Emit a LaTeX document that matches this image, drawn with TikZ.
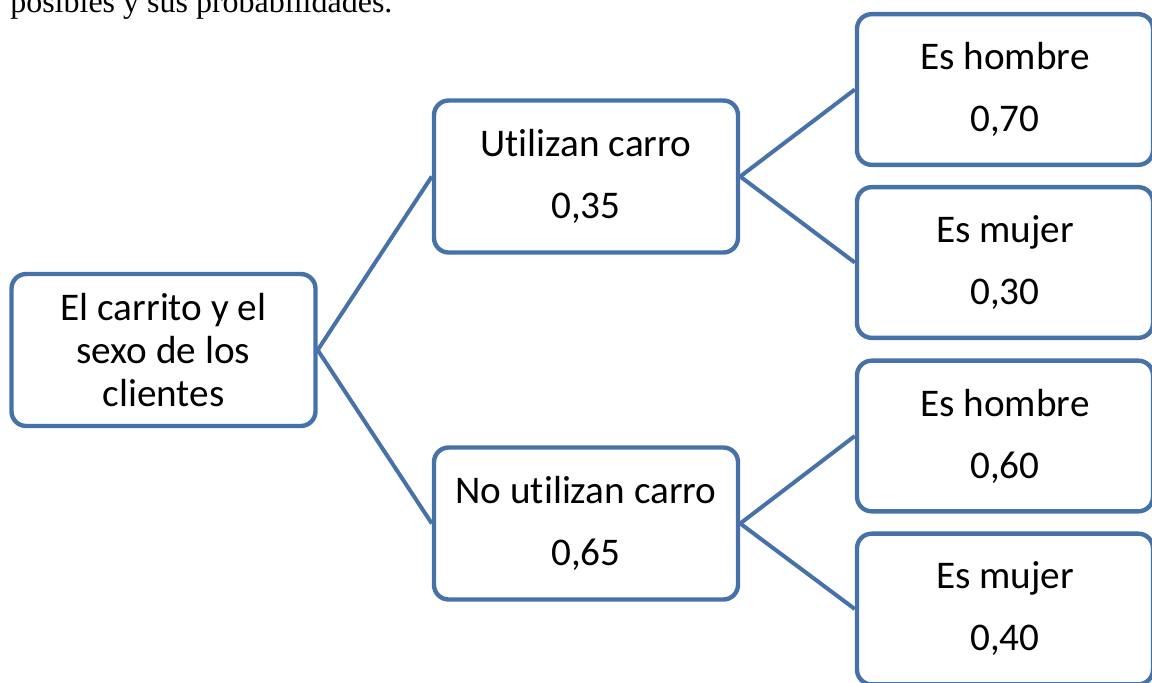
\documentclass[tikz,border=0pt]{standalone}
\usepackage{fontspec}
\setmainfont{Carlito}[Ligatures=NoCommon]
\newfontfamily\timesfont{Liberation Serif}
\usepackage{tikz}
\definecolor{boxblue}{RGB}{71,114,169}

\begin{document}
\begin{tikzpicture}[x=0.75pt, y=-0.75pt,
    box/.style={draw=boxblue, line width=3.3pt, rounded corners=11pt, fill=white,
        align=center, inner sep=0pt, minimum width=228pt, minimum height=114pt,
        font=\fontsize{29.4}{46.5}\selectfont},
    leaf/.style={box, minimum width=222pt, minimum height=113pt},
    link/.style={draw=boxblue, line width=3pt}]
    \useasboundingbox (0,0) rectangle (1152,682);
    \clip (0,0) rectangle (1152,682);

    % Text of the page above the diagram
    \node[anchor=base west, inner sep=0pt, font=\timesfont\fontsize{24}{28}\selectfont]
        (caption) at (10,12) {posibles y sus probabilidades.};

    % Root of the tree
    \node[box, font=\fontsize{29.4}{32}\selectfont] (root) at (163.5,350)
        {El carrito y el\\sexo de los\\clientes};

    % First level: uses the cart or not
    \node[box] (use) at (586,176.5) {Utilizan carro\\0,35};
    \node[box] (nouse) at (586,523.5) {No utilizan carro\\0,65};

    % Second level: sex of the client
    \node[leaf] (usem) at (1005,89.5) {Es hombre\\0,70};
    \node[leaf] (usef) at (1005,262.5) {Es mujer\\0,30};
    \node[leaf] (nousem) at (1005,436) {Es hombre\\0,60};
    \node[leaf] (nousef) at (1005,609) {Es mujer\\0,40};

    % Branches
    \draw[link] (root.east) -- (use.west);
    \draw[link] (root.east) -- (nouse.west);
    \draw[link] (use.east) -- (usem.west);
    \draw[link] (use.east) -- (usef.west);
    \draw[link] (nouse.east) -- (nousem.west);
    \draw[link] (nouse.east) -- (nousef.west);

\end{tikzpicture}
\end{document}
